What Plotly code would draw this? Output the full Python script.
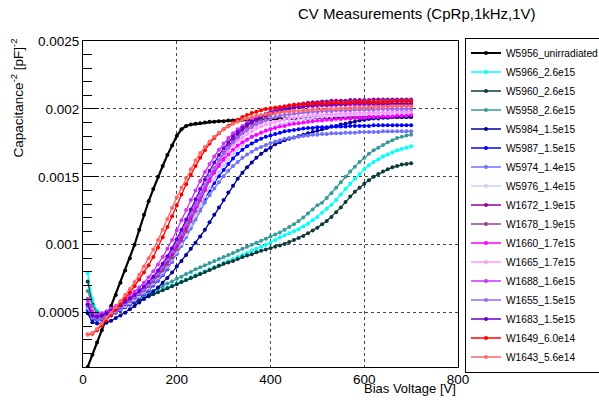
import plotly.graph_objects as go

# Bias voltage steps [V]
voltages = list(range(10, 701, 10))

# Values in units of 1e-5 pF^-2
w5956 = [10,19,28,37,46,55,63,72,81,90,
         100,111,122,132,141,150,158,166,173,180,
         185,187.5,188.5,189,189.5,190,190.5,190.5,191,191,
         191.5,191.5,191.5,192,192,192,192.5,192.5,192.5,192.5,
         192.5,193,193,193,193,193,193,193,193.5,193.5,
         193.5,193.5,193.5,193.5,193.5,193.5,193.5,193.5,193.5,194,
         194,194,194,194,194,194,194,194,194,194]
w5966 = [79,60,51.5,49.5,49.5,50.5,52,53.5,55,56.5,
         58,59.5,61,62.5,64,65.5,67,68.5,70,71.5,
         73,74.5,76,77.5,79,80.5,82,83.5,85,86.5,
         88,89.5,91,92.5,94,95.5,97,98.5,100,101.5,
         103.5,105.5,107,108.5,110,111.5,113.5,115.5,118,120.5,
         123.5,126.5,129.5,133,137,141,145,148.5,152,155.5,
         158.5,161,163,165,166.5,168,169.5,170.5,171.5,172.5]
w5960 = [73,56,50,48,48.5,50,51.5,53,54.5,56,
         57.5,59,60.5,62,63.5,65,66.5,68,69.5,71,
         72.5,74,75.5,77,78.5,80,81.5,83,84.5,86,
         87,88,89.5,91,92,93,94.5,95.5,96.5,97.5,
         98.5,99.5,100.5,102,103.5,105,106.5,108.5,110.5,112.5,
         115,117.5,120.5,124,127.5,131.5,135.5,139,142,145,
         147.5,150,152,154,155.5,157,158,159,159.5,160]
w5958 = [66,55,50,48.5,49,50.5,52,54,55.5,57.5,
         59,61,62.5,64.5,66,68,69.5,71.5,73,75,
         76.5,78.5,80,82,83.5,85,86.5,88,89.5,91,
         92.5,94,95.5,97,98.5,100,101.5,103,104.5,106,
         107.5,109,111,113,115,117.5,120,123,126,129,
         131,134.5,138,142,146,150,154,157.5,161,164,
         167,169.5,171.5,173.5,175.5,177,178.5,179.5,180.5,181]
w5984 = [49.5,43,42,42,42.5,44,46,48,50,52.5,
         55,57.5,60,62.5,65.5,68.5,72,75.5,79.5,84,
         88,92.5,97,101.5,106,111,116.5,122,127.5,133,
         138.5,143.5,148.5,153,157,160.5,164,167,169.5,171.5,
         174,175.5,177,178,179,180,181,182,183,184,
         185,186,187,187.5,188.5,189,190,190.5,191.5,192,
         192.5,193,193,193.5,193.5,194,194,194,194.5,194.5]
w5987 = [52,45,44.5,45,46.5,48,50,52,54,56,
         58.5,61,63.5,66.5,70,73.5,77.5,82,87.5,94,
         100.5,107.5,114.5,121.5,128,134,140,145.5,150.5,155,
         159.5,163.5,167,170,172.5,174.5,176.5,178,179.5,180.5,
         181.5,182.5,183.5,184,184.5,185,185.5,186,186,186.5,
         186.5,186.5,187,187,187,187,187.5,187.5,187.5,187.5,
         187.5,188,188,188,188,188,188,188,188,188]
w5974 = [53,46,45,45.5,47,48.5,50.5,52.5,54.5,56.5,
         59,61.5,64,67,70.5,74,78,82.5,87.5,93,
         99,105.5,112,118.5,125,131,136.5,141.5,146,150.5,
         154.5,158,161,164,166.5,168.5,170.5,172,173.5,175,
         176,177,178,178.5,179,179.5,180,180.5,181,181,
         181.5,181.5,182,182,182,182.5,182.5,182.5,183,183,
         183,183,183,183.5,183.5,183.5,183.5,183.5,183.5,183.5]
w5976 = [54,47,46,46.5,47.5,49,51,53,55,57.5,
         60,62.5,65.5,68.5,72,76,80,84.5,89.5,95,
         101,107.5,114.5,121.5,128.5,135.5,142,148,153.5,158.5,
         163,167,170.5,173.5,176.5,179,181,183,184.5,186,
         187.5,188.5,189.5,190.5,191,192,192.5,193,193.5,194,
         194,194.5,194.5,195,195,195,195.5,195.5,195.5,196,
         196,196,196,196.5,196.5,196.5,196.5,197,197,197]
w1672 = [56,47.5,46.5,47,48.5,50,52,54,56.5,59,
         61.5,64,67,70.5,74,78,82.5,87.5,93,99,
         105.5,112.5,120,127.5,135,142.5,149.5,156,162,167.5,
         172.5,177,181,184.5,187.5,190,192.5,194.5,196.5,198,
         199.5,200.5,201.5,202.5,203,203.5,204,204.5,205,205,
         205.5,205.5,206,206,206,206,206.5,206.5,206.5,206.5,
         206.5,207,207,207,207,207,207,207,207,207]
w1678 = [55,47,46,46.5,48,49.5,51.5,53.5,56,58.5,
         61,63.5,66.5,69.5,73,77,81,85.5,90.5,96.5,
         103,110,117.5,125,132.5,140,147,153.5,159.5,165,
         170,174.5,178.5,182,185,187.5,190,192,194,195.5,
         197,198,199,200,200.5,201.5,202,202.5,203,203.5,
         203.5,204,204,204.5,204.5,205,205,205,205,205.5,
         205.5,205.5,205.5,206,206,206,206,206,206,206]
w1660 = [60,51,48,48.5,50,51.5,53.5,55.5,58,60.5,
         63,65.5,68.5,72,75.5,79.5,84,89,94.5,100.5,
         107,114,121,128,135,141.5,147.5,153,158,162.5,
         166.5,170,173,175.5,177.5,179.5,181,182.5,184,185,
         186,187,187.5,188.5,189,189.5,190,190.5,191,191.5,
         191.5,192,192,192.5,192.5,193,193,193.5,193.5,193.5,
         194,194,194,194.5,194.5,194.5,195,195,195,195.5]
w1665 = [57,49,47.5,48,49.5,51.5,53.5,55.5,58,60.5,
         63,66,69,72.5,76.5,81,86,91.5,97.5,104,
         110.5,117.5,124.5,131.5,138.5,145,151,156.5,161.5,166,
         170,173.5,176.5,179,181.5,183.5,185.5,187,188.5,189.5,
         190.5,191.5,192.5,193,193.5,194,194.5,195,195,195.5,
         195.5,196,196,196,196.5,196.5,196.5,197,197,197,
         197,197.5,197.5,197.5,197.5,198,198,198,198,198]
w1688 = [59,50,48.5,49.5,51,53,55,57.5,60,62.5,
         65.5,68.5,72,76,80.5,85.5,91,97,103.5,110.5,
         118,125.5,133,140,147,153.5,159.5,165,170,174.5,
         178.5,182,185,187.5,190,192,193.5,195,196.5,197.5,
         198.5,199.5,200,200.5,201,201.5,201.5,202,202,202,
         202.5,202.5,202.5,202.5,203,203,203,203,203,203,
         203,203,203,203,203,203,203,203,203,203]
w1655 = [55,47.5,46.5,47.5,49,50.5,52.5,54.5,57,59.5,
         62,64.5,67.5,71,75,79,84,89.5,95.5,102,
         108.5,115.5,123,130,137,144,150.5,156.5,162,167,
         171.5,175.5,179,182,184.5,186.5,188.5,190,191.5,193,
         194,195,195.5,196,196.5,197,197.5,197.5,198,198,
         198.5,198.5,198.5,199,199,199,199,199.5,199.5,199.5,
         199.5,199.5,200,200,200,200,200,200,200,200]
w1683 = [56,48,47,48,49.5,51.5,53.5,55.5,58,60.5,
         63,66,69,72.5,76.5,81,86,91.5,97.5,104,
         111,118.5,126,133.5,141,148,154.5,160.5,166,171,
         175.5,179.5,183,186,188.5,190.5,192.5,194,195.5,197,
         198,199,200,200.5,201,201.5,202,202.5,202.5,203,
         203,203,203.5,203.5,203.5,203.5,204,204,204,204,
         204,204,204,204,204,204,204,204,204,204]
w1649 = [34,34.5,37,40.5,44.5,48.5,52.5,56.5,60.5,65,
         69.5,74.5,79.5,85,91,98,105.5,113,121,129,
         137,144.5,151.5,158,164,169.5,174.5,178.5,182,185,
         187.5,190,192,194,195.5,197,198,199,200,200.5,
         201,201.5,202,202.5,203,203,203.5,203.5,204,204,
         204,204,204.5,204.5,204.5,204.5,204.5,205,205,205,
         205,205,205,205,205,205.5,205.5,205.5,205.5,205.5]
w1643 = [34,35,38,42,46,50,54,58.5,63,67.5,
         72.5,78,84,90,96.5,103.5,111,119,127,135,
         142,149,155.5,162,167.5,172,176,179.5,182.5,185,
         187,189,190.5,192,193,194,195,195.5,196,196.5,
         197,197.5,198,198,198.5,198.5,199,199,199.5,199.5,
         199.5,200,200,200,200.5,200.5,200.5,201,201,201,
         201,201.5,201.5,201.5,201.5,202,202,202,202,202]

series_names = ["W5956_unirradiated", "W5966_2.6e15", "W5960_2.6e15", "W5958_2.6e15",
                "W5984_1.5e15", "W5987_1.5e15", "W5974_1.4e15", "W5976_1.4e15",
                "W1672_1.9e15", "W1678_1.9e15", "W1660_1.7e15", "W1665_1.7e15",
                "W1688_1.6e15", "W1655_1.5e15", "W1683_1.5e15", "W1649_6.0e14",
                "W1643_5.6e14"]
series_values = [w5956, w5966, w5960, w5958, w5984, w5987, w5974, w5976,
                 w1672, w1678, w1660, w1665, w1688, w1655, w1683, w1649, w1643]
series_colors = ["#000000", "#00ffff", "#0d3b3b", "#389a9a", "#000099", "#0000ff",
                 "#7070ff", "#ccccff", "#990099", "#9a409a", "#ff00ff", "#ff99ff",
                 "#cc33ff", "#9966ff", "#6600cc", "#ff0000", "#ff6666"]

y_tickvals = [0.0005, 0.001, 0.0015, 0.002, 0.0025]
y_ticktext = ["0.0005", "0.001", "0.0015", "0.002", "0.0025"]
x_tickvals = [0, 200, 400, 600, 800]

FONT = "Liberation Sans, Arial, Helvetica, sans-serif"

fig = go.Figure()
for name, vals, col in zip(series_names, series_values, series_colors):
    fig.add_trace(go.Scatter(
        x=voltages[:len(vals)], y=[v * 1e-5 for v in vals], name=name,
        mode="lines+markers",
        line=dict(color=col, width=2.2 if name.endswith("unirradiated") else 1.3),
        marker=dict(color=col, size=4, symbol="circle"),
    ))

L, R, T, B = 83, 458, 41, 367
W, H = 599, 405
pw, ph = R - L, B - T

def px(x):
    return (x - L) / pw

def py(y):
    return (B - y) / ph

fig.update_layout(
    width=W, height=H,
    margin=dict(l=L, r=W - R, t=T, b=H - B, autoexpand=False),
    paper_bgcolor="white", plot_bgcolor="white",
    font=dict(family=FONT, size=13.5, color="black"),
    showlegend=True,
    legend=dict(
        x=px(465), y=py(37.5), xanchor="left", yanchor="top",
        bgcolor="white", bordercolor="black", borderwidth=1,
        font=dict(family=FONT, size=10.2, color="black"),
        tracegroupgap=0, maxheight=400,
    ),
    xaxis=dict(
        range=[0, 800], tickvals=x_tickvals, ticktext=[str(v) for v in x_tickvals],
        showline=True, linecolor="black", linewidth=1, mirror=True,
        ticks="", showgrid=True, gridcolor="#444444", griddash="dot", gridwidth=1,
        zeroline=False, tickfont=dict(size=13.5),
    ),
    yaxis=dict(
        range=[0.0001, 0.0025], tickvals=y_tickvals, ticktext=y_ticktext,
        showline=True, linecolor="black", linewidth=1, mirror=True,
        ticks="inside", ticklen=16, tickcolor="black", tickwidth=1,
        showgrid=True, gridcolor="#444444", griddash="dot", gridwidth=1,
        zeroline=False, tickfont=dict(size=13.5),
        minor=dict(tickmode="linear", tick0=0, dtick=0.0001, ticks="inside",
                   ticklen=9, tickcolor="black", showgrid=False),
    ),
    annotations=[
        dict(text="CV Measurements (CpRp,1kHz,1V)", x=px(538), y=py(13),
             xref="paper", yref="paper", xanchor="right", yanchor="middle",
             showarrow=False, font=dict(size=15, family=FONT)),
        dict(text="Bias Voltage [V]", x=px(458), y=py(388),
             xref="paper", yref="paper", xanchor="right", yanchor="middle",
             showarrow=False, font=dict(size=13, family=FONT)),
        dict(text="Capacitance<sup>-2</sup> [pF]<sup>-2</sup>", x=px(17), y=py(37),
             xref="paper", yref="paper", xanchor="center", yanchor="top",
             textangle=-90, showarrow=False, font=dict(size=13.5, family=FONT)),
    ],
)

fig.write_html("out.html", config={"displayModeBar": False},
               post_script="document.body.style.margin='0px';")
